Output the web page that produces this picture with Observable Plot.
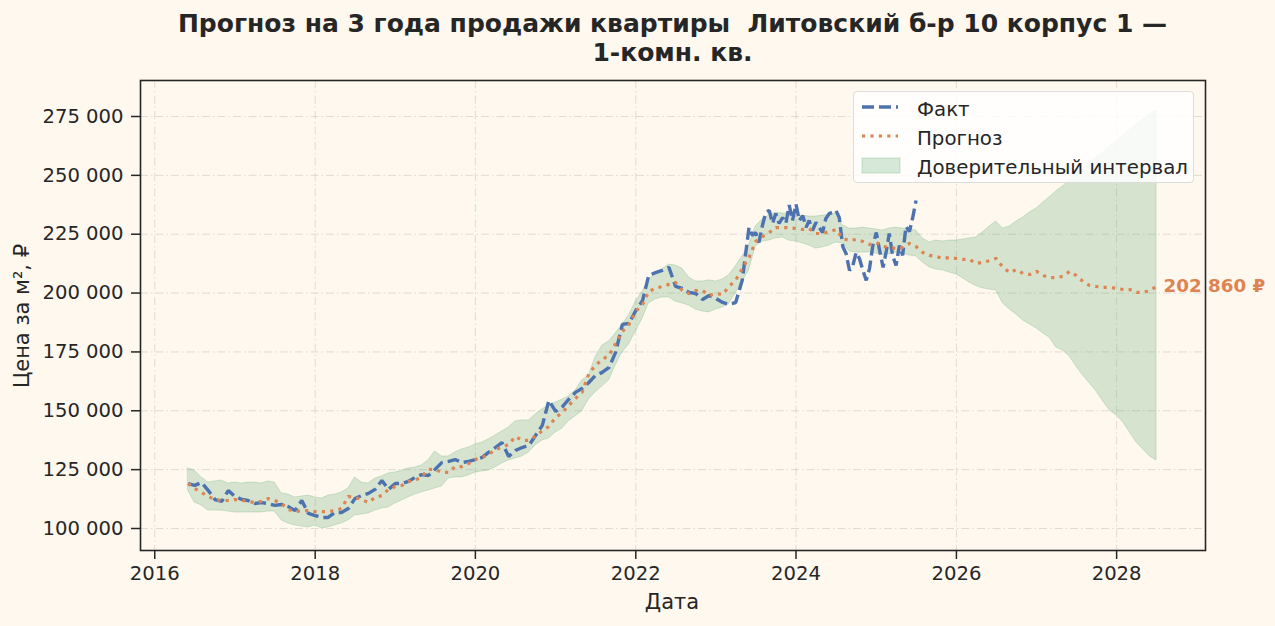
<!DOCTYPE html>
<html><head><meta charset="utf-8">
<script src="https://cdn.jsdelivr.net/npm/d3@7"></script>
<script src="https://cdn.jsdelivr.net/npm/@observablehq/plot@0.6"></script>
<style>
body{margin:0;background:#fff8ef;}
#wrap{position:relative;width:1275px;height:626px;background:#fff8ef;font-family:"DejaVu Sans",sans-serif;color:#262626;overflow:hidden}
#chart{position:absolute;left:0;top:0}
#title{position:absolute;left:140px;width:1065px;top:9px;text-align:center;font-weight:bold;font-size:25px;line-height:29px;white-space:pre}
#ylabel{position:absolute;left:22px;top:316px;transform:translate(-50%,-50%) rotate(-90deg);font-size:21px;white-space:nowrap}
#xlabel{position:absolute;left:672px;top:602px;transform:translate(-50%,-50%);font-size:21px}
#legend{position:absolute;left:853px;top:91px;width:339px;height:90px;background:rgba(255,255,255,0.82);border:1px solid #dcdcdc;border-radius:4px}
.lt{position:absolute;left:63px;font-size:19.8px;transform:translateY(-50%);white-space:nowrap}
#legsw{position:absolute;left:0;top:0}
</style></head><body>
<div id="wrap">
  <div id="chart"></div>
  <div id="title">Прогноз на 3 года продажи квартиры  Литовский б-р 10 корпус 1 —
1-комн. кв.</div>
  <div id="ylabel">Цена за м², ₽</div>
  <div id="xlabel">Дата</div>
  <div id="legend">
    <svg id="legsw" width="339" height="90">
      <line x1="8" x2="44" y1="15" y2="15" stroke="#4c72b0" stroke-width="3.4" stroke-dasharray="12,5"/>
      <line x1="8" x2="44" y1="44" y2="44" stroke="#dd8452" stroke-width="3.2" stroke-dasharray="3.2,5.2"/>
      <rect x="8" y="66" width="38" height="15" fill="#55a868" fill-opacity="0.24" stroke="#55a868" stroke-opacity="0.3"/>
    </svg>
    <div class="lt" style="top:17px">Факт</div>
    <div class="lt" style="top:46px">Прогноз</div>
    <div class="lt" style="top:75px">Доверительный интервал</div>
  </div>
</div>
<script>
// Monthly series, first month = June 2016
const startYear = 2016, startMonth = 5;

// Fact: monthly values June 2016 – May 2023
const factMonthly = [
119100,118300,119500,116100,112300,111500,116100,113600,112300,111900,
110600,111000,110600,109800,110200,109300,107600,111900,106400,105500,
104700,104700,106800,106800,108500,112700,114000,114900,116600,120400,
116600,119100,119100,120000,121700,122900,122500,125100,128000,128500,
129300,128000,128500,129300,130200,132300,134400,136500,130600,133100,
134400,135300,139500,143800,154400,149700,151800,154800,157800,159500,
162000,165000,166300,168400,174800,186700,187100,192600,196900,207500,
208700,209600,210900,202800,202000,200300,199800,197300,199000,197700,
196000,195200,196000,205400
];
// Fact: semi-monthly values from June 2023 (1st and 16th of each month)
const factSemiMonthly = [
227900,224500,225700,221500,228700,234200,235100,229600,233800,229600,
232100,229600,237400,230800,237800,230800,232900,227900,230800,226600,
230000,227900,225700,231700,233800,234200,235100,232100,219800,216800,
209600,211700,217200,214700,209600,205400,210400,220200,225700,218100,
210900,218100,225300,216000,211700,220200,216000,228300,226100,232100,
239300
];

const forecastValues = [
119100,117000,115300,113600,112300,111900,111900,112300,111900,111500,
111000,111500,112700,111900,110600,108100,107200,107600,107600,107200,
107200,107200,107600,108500,113600,113200,112300,111000,113200,114000,
116600,117800,118300,120000,120400,122100,125100,125100,123800,123800,
126300,126300,127600,129300,130200,131400,133600,134400,135700,139100,
137400,137400,139100,141600,143300,147200,149300,152300,155200,157800,
165800,169200,171800,173500,178600,183700,186700,192200,195200,200700,
202000,202800,203700,204500,201100,199800,201100,201100,199000,199800,
199400,202800,205400,210400,215100,221900,224000,225700,227800,227800,
227800,227400,227000,227400,225300,225300,226100,227000,223200,222300,
222800,221900,220600,221500,219800,219400,218900,219400,221100,219800,
217200,216000,215500,214700,215100,214700,214300,214300,212600,213000,
213800,214700,210900,208700,210000,208300,207900,209200,207500,206600,
206600,207100,209200,207500,204900,203200,202800,202400,202400,202000,
201500,201500,200300,200300,201100,202860
];

const ciUpper = [
125500,124600,121700,119500,120000,120400,119100,119500,119100,119500,
119500,119100,120000,119500,114900,114400,113200,113600,114000,113200,
112700,114000,114400,115300,117000,121700,119500,119100,121200,122100,
123400,123800,124600,125500,125900,126800,128900,132700,130600,130600,
132300,133600,134400,135700,136500,137800,139500,141200,142900,145500,
145900,145900,148400,150600,152300,153500,154800,156100,158600,162900,
165000,172600,177700,179400,182800,186700,190500,196400,200700,205400,
208300,210000,212100,211700,210400,206600,204900,204900,205400,204900,
205800,207500,211300,215500,220200,228300,231200,233000,234200,233800,
233800,232500,232900,232500,232500,232900,233300,233800,228700,227400,
227400,227800,227400,227000,226600,227400,227800,227400,227000,226600,
223200,221500,222300,221900,222300,222300,222800,223200,223600,225700,
228300,230400,227400,228300,230400,232100,234200,235900,238500,240600,
243200,245300,247800,250400,252900,255500,257600,259700,262300,264400,
266900,269100,271600,273700,275900,277600
];

const ciLower = [
116100,111000,109800,107600,107600,107600,107200,106800,106800,106800,
106800,106800,107200,107200,103400,102100,101300,100800,100400,101300,
100000,100400,101300,102100,103400,105500,105900,106400,107600,108500,
108900,110600,111900,113200,114400,115300,116100,117000,117800,121200,
121700,121700,122500,123800,124200,124600,125900,127600,128900,129700,
130600,132300,135300,137400,138200,140800,142500,145500,147600,149700,
154800,157800,160300,162900,169200,174800,178200,183700,189200,195600,
197300,198100,198100,196400,195600,194700,193000,192200,191800,193000,
193900,195200,199800,204900,209600,219800,221900,222300,223200,223600,
222300,221900,221100,220200,218900,219400,220200,221500,221100,217700,
217200,217200,217200,216800,216000,216400,217200,216800,216000,215500,
213000,210900,210000,209600,208700,207900,206200,204500,203000,202000,
201500,201100,195600,193000,190900,188400,186700,185000,182800,181100,
176900,175600,173100,168800,165000,161600,158200,153900,150100,148000,
145000,140800,136500,133600,130600,128900
];

const xTickYears = [2016, 2018, 2020, 2022, 2024, 2026, 2028];
const yTicks = [100000, 125000, 150000, 175000, 200000, 225000, 250000, 275000];

const monthDate = i => new Date(Date.UTC(startYear, startMonth + i, 1));
const semiStart = factMonthly.length;
const factRows = factMonthly.map((v, i) => ({date: monthDate(i), v}))
  .concat(factSemiMonthly.map((v, j) => ({date: new Date(Date.UTC(startYear, startMonth + semiStart + Math.floor(j / 2), j % 2 ? 16 : 1)), v})));
const fcRows = forecastValues.map((v, i) => ({date: monthDate(i), v}));
const ciRows = ciLower.map((lo, i) => ({date: monthDate(i), lo, hi: ciUpper[i]}));
const xTicks = xTickYears.map(y => new Date(Date.UTC(y, 0, 1)));
const spaceFmt = d => d3.format(",")(d).replace(/,/g, " ");
const last = fcRows[fcRows.length - 1];

const gridStyle = {stroke: "#c9c2b8", strokeOpacity: 0.55, strokeWidth: 1, strokeDasharray: "8,3,1.5,3"};

const chart = Plot.plot({
  width: 1275, height: 626,
  marginTop: 80, marginBottom: 76, marginLeft: 140, marginRight: 70,
  style: {background: "transparent", color: "#262626", fontFamily: "DejaVu Sans", fontSize: "20px", overflow: "visible"},
  x: {type: "utc", domain: [new Date(Date.UTC(2015, 9, 28)), new Date(Date.UTC(2029, 1, 9))]},
  y: {domain: [90654, 290293]},
  marks: [
    Plot.gridX(xTicks, gridStyle),
    Plot.gridY(yTicks, gridStyle),
    Plot.areaY(ciRows, {x: "date", y1: "lo", y2: "hi", fill: "#55a868", fillOpacity: 0.24, stroke: "#55a868", strokeOpacity: 0.25, strokeWidth: 1}),
    Plot.line(factRows, {x: "date", y: "v", stroke: "#4c72b0", strokeWidth: 3.4, strokeDasharray: "12,5", strokeLinecap: "butt", strokeLinejoin: "miter"}),
    Plot.line(fcRows, {x: "date", y: "v", stroke: "#dd8452", strokeWidth: 3.2, strokeDasharray: "3.2,5.2", strokeLinecap: "butt"}),
    Plot.text([last], {x: "date", y: "v", text: d => spaceFmt(d.v) + " ₽", dx: 7, textAnchor: "start", fill: "#dd8452", fontWeight: "bold", fontSize: 18.3}),
    Plot.frame({stroke: "#262626", strokeWidth: 1.6}),
    Plot.axisX(xTicks, {tickFormat: d3.utcFormat("%Y"), tickSize: 9, tickPadding: 7, strokeWidth: 1.5, label: null, fontSize: 19.6}),
    Plot.axisY(yTicks, {tickFormat: spaceFmt, tickSize: 9, tickPadding: 8, strokeWidth: 1.5, label: null, fontSize: 19.6})
  ]
});
document.getElementById("chart").appendChild(chart);
</script>
</body></html>
